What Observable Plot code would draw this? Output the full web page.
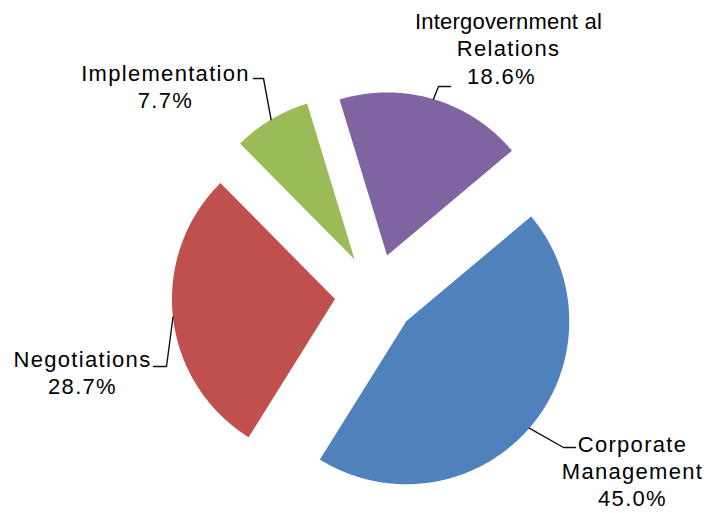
<!DOCTYPE html>
<html>
<head>
<meta charset="utf-8">
<script src="https://cdn.jsdelivr.net/npm/d3@7"></script>
<script src="https://cdn.jsdelivr.net/npm/@observablehq/plot@0.6"></script>
<style>
  html, body { margin: 0; padding: 0; background: #fff; }
  #chart svg { display: block; }
</style>
</head>
<body>
<div id="chart"></div>
<script>
// ---- data ----
const categories = ["Corporate Management", "Negotiations", "Implementation", "Intergovernmental Relations"];
const shares = [45.0, 28.7, 7.7, 18.6];
const labelNames = ["Corporate\nManagement", "Negotiations", "Implementation", "Intergovernment al\nRelations"];
const colors = ["#4F81BD", "#C0504D", "#9BBB59", "#8064A2"];

// ---- layout ----
const W = 721, H = 513;
const CX = 375, CY = 294, R = 163;     // pie centre and radius in pixels
const startAngle = 50;                 // degrees clockwise from 12 o'clock
const explode = 0.25;                  // fraction of radius
const FS = 22, LH = 1.25;              // label font size (px) and line height (em)
// label block (centre x, first baseline y) and leader elbow / end, in pixels
const labelPos = [[632, 451], [82, 366.5], [165, 80], [508, 28.5]];
const leaderElbow = [[563, 447], [166, 366], [263, 78], [438, 86]];
const leaderEnd = [[575, 447], [153, 366], [253, 78], [450, 86]];

const toX = px => (px - CX) / R;
const toY = py => (CY - py) / R;

const total = d3.sum(shares);
let acc = 0;
const slices = categories.map((name, i) => {
  const a0 = (startAngle + acc / total * 360) * Math.PI / 180;
  acc += shares[i];
  const a1 = (startAngle + acc / total * 360) * Math.PI / 180;
  const mid = (a0 + a1) / 2;
  const cx = explode * Math.sin(mid), cy = explode * Math.cos(mid);
  return {name, i, a0, a1, mid, cx, cy};
});

const piePts = [];
for (const s of slices) {
  piePts.push({name: s.name, x: s.cx, y: s.cy});
  const n = Math.max(8, Math.ceil((s.a1 - s.a0) / (Math.PI / 360)));
  for (let k = 0; k <= n; k++) {
    const a = s.a0 + (s.a1 - s.a0) * k / n;
    piePts.push({name: s.name, x: s.cx + Math.sin(a), y: s.cy + Math.cos(a)});
  }
}

const leaderPts = [];
slices.forEach((s, i) => {
  leaderPts.push({name: s.name, x: s.cx + Math.sin(s.mid), y: s.cy + Math.cos(s.mid)});
  leaderPts.push({name: s.name, x: toX(leaderElbow[i][0]), y: toY(leaderElbow[i][1])});
  leaderPts.push({name: s.name, x: toX(leaderEnd[i][0]), y: toY(leaderEnd[i][1])});
});

// Plot puts the first baseline of a top-anchored block 0.71*lineHeight em below its anchor
const labels = slices.map((s, i) => ({
  name: s.name,
  text: labelNames[i] + "\n" + shares[i].toFixed(1) + "%",
  x: toX(labelPos[i][0]),
  y: toY(labelPos[i][1] - 0.71 * LH * FS)
}));

const chart = Plot.plot({
  width: W,
  height: H,
  margin: 0,
  x: {domain: [toX(0), toX(W)], axis: null},
  y: {domain: [toY(H), toY(0)], axis: null},
  color: {domain: categories, range: colors},
  style: {fontFamily: "'Liberation Sans', Arial, sans-serif", background: "#fff"},
  marks: [
    Plot.line(piePts, {x: "x", y: "y", z: "name", fill: "name", stroke: null, curve: "linear-closed"}),
    Plot.line(leaderPts, {x: "x", y: "y", z: "name", stroke: "#111", strokeWidth: 1.4, curve: "linear"}),
    Plot.text(labels, {
      x: "x", y: "y", text: "text",
      textAnchor: "middle", lineAnchor: "top", lineHeight: LH,
      fontSize: FS, fill: "#000",
      fontFamily: "'Liberation Sans', Arial, sans-serif"
    })
  ]
});
const texts = chart.querySelectorAll("g[aria-label='text'] text");
texts.forEach(t => t.setAttribute("letter-spacing", "1.3"));
// the wrapped "Intergovernment al" line is set tighter in the original
const last = texts[texts.length - 1];
if (last) {
  const spans = last.querySelectorAll("tspan");
  if (spans[0]) spans[0].setAttribute("letter-spacing", "0.2");
  if (spans[2]) spans[2].setAttribute("dx", "-7");
}
document.getElementById("chart").appendChild(chart);
</script>
</body>
</html>
